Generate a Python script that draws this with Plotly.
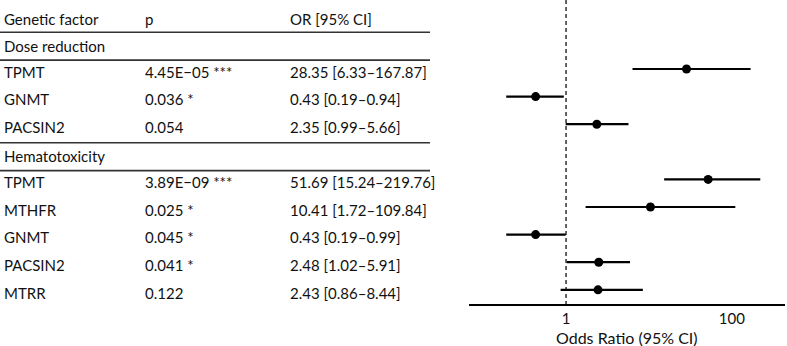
import plotly.graph_objects as go

# ---- data ----
sections = ["Dose reduction", "Hematotoxicity"]
genes = [
    ["TPMT", "GNMT", "PACSIN2"],
    ["TPMT", "MTHFR", "GNMT", "PACSIN2", "MTRR"],
]
p_text = [
    ["4.45E\u221205 ***", "0.036 *", "0.054"],
    ["3.89E\u221209 ***", "0.025 *", "0.045 *", "0.041 *", "0.122"],
]
or_vals = [
    [28.35, 0.43, 2.35],
    [51.69, 10.41, 0.43, 2.48, 2.43],
]
ci_low = [
    [6.33, 0.19, 0.99],
    [15.24, 1.72, 0.19, 1.02, 0.86],
]
ci_high = [
    [167.87, 0.94, 5.66],
    [219.76, 109.84, 0.99, 5.91, 8.44],
]
header = ["Genetic factor", "p", "OR [95% CI]"]
x_ticks = [1, 100]
x_tick_labels = ["1", "100"]
x_title = "Odds Ratio (95% CI)"

# ---- layout helpers ----
W, H = 787, 346
PLOT_H = 304
FONT = "Lato, 'Open Sans', sans-serif"
TXT = "#111"
col_x = [2, 143, 288]

rows = []
for s, sec in enumerate(sections):
    rows.append(("sec", s, None))
    for i in range(len(genes[s])):
        rows.append(("item", s, i))

fig = go.Figure()
annotations = []
shapes = []


def add_text(x, y, text, size=15):
    annotations.append(dict(x=x / W, xref="paper", y=y, yref="y", text=text,
                            showarrow=False, xanchor="left", yanchor="middle",
                            font=dict(family=FONT, size=size, color=TXT)))


for c, h in zip(col_x, header):
    add_text(c, -0.8, h)

line_y = []
xs, ys, em, ep = [], [], [], []
for idx, (kind, s, i) in enumerate(rows):
    if kind == "sec":
        add_text(col_x[0], idx + 0.15, sections[s])
        line_y.append(idx - 0.33)
        line_y.append(idx + 0.68)
    else:
        add_text(col_x[0], idx + 0.1, genes[s][i])
        add_text(col_x[1], idx + 0.1, p_text[s][i])
        add_text(col_x[2], idx + 0.1,
                 f"{or_vals[s][i]:.2f} [{ci_low[s][i]:.2f}\u2013{ci_high[s][i]:.2f}]")
        xs.append(or_vals[s][i])
        ys.append(idx)
        ep.append(ci_high[s][i] - or_vals[s][i])
        em.append(or_vals[s][i] - ci_low[s][i])

for ly in line_y:
    shapes.append(dict(type="line", xref="paper", x0=0, x1=430 / W, yref="y",
                       y0=ly, y1=ly, line=dict(color="#333", width=1.6)))

y_top, y_bot = -1.5, 9.514

# reference line at OR = 1
fig.add_trace(go.Scatter(x=[1, 1], y=[y_top, y_bot], mode="lines",
                         line=dict(color="#222", width=1.4, dash="4px,3px"),
                         hoverinfo="skip", showlegend=False))

fig.add_trace(go.Scatter(
    x=xs, y=ys, mode="markers",
    marker=dict(color="black", size=9),
    error_x=dict(type="data", symmetric=False, array=ep, arrayminus=em,
                 color="black", thickness=2.2, width=0),
    showlegend=False, cliponaxis=False))

annotations.append(dict(x=(469 + 785) / 2 / W, xref="paper",
                        y=-(337.5 - PLOT_H) / PLOT_H, yref="paper",
                        text=x_title, showarrow=False,
                        xanchor="center", yanchor="middle",
                        font=dict(family=FONT, size=16, color=TXT)))

fig.update_layout(
    width=W, height=H,
    margin=dict(l=0, r=0, t=0, b=H - PLOT_H, autoexpand=False),
    paper_bgcolor="white", plot_bgcolor="white",
    annotations=annotations, shapes=shapes,
    xaxis=dict(type="log", domain=[469 / W, 785 / W], range=[-1.17, 2.64],
               tickvals=x_ticks, ticktext=x_tick_labels, ticks="",
               showgrid=False, zeroline=False, showline=True,
               linecolor="black", linewidth=1.5, automargin=False,
               tickfont=dict(family=FONT, size=15, color=TXT)),
    yaxis=dict(range=[y_bot, y_top], visible=False, showgrid=False,
               zeroline=False),
)

fig.write_html("out.html", config={"displayModeBar": False},
               post_script="document.body.style.margin='0';document.body.style.padding='0';")
